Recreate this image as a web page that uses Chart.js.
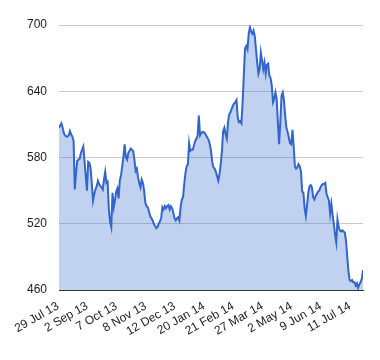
<!DOCTYPE html>
<html>
<head>
<meta charset="utf-8">
<script src="https://cdn.jsdelivr.net/npm/chart.js@4"></script>
<style>
  html, body { margin: 0; padding: 0; background: #fff; }
  canvas { display: block; }
</style>
</head>
<body>
<canvas id="chart" width="380" height="360"></canvas>
<script>
// tick labels along the x axis, one every 24 trading days
const tickLabels = ["29 Jul 13", "2 Sep 13", "7 Oct 13", "8 Nov 13", "12 Dec 13", "20 Jan 14",
	"21 Feb 14", "27 Mar 14", "2 May 14", "9 Jun 14", "11 Jul 14"];
const tickStep = 24;

const yTicks = [460, 520, 580, 640, 700];

// daily closes
const prices = [
	607, 609, 611, 607, 602, 600, 599, 599, 600, 604,
	601, 599, 595, 551, 566, 577, 578, 579, 584, 587,
	590, 577, 563, 550, 576, 575, 570, 556, 541, 547,
	551, 554, 559, 556, 554, 553, 551, 560, 567, 557,
	558, 533, 522, 517, 548, 535, 541, 549, 552, 543,
	559, 564, 572, 581, 592, 580, 578, 584, 586, 588,
	587, 586, 578, 568, 570, 562, 557, 553, 560, 557,
	550, 539, 536, 535, 531, 527, 525, 523, 520, 518,
	516, 517, 520, 522, 525, 535, 533, 536, 534, 536,
	537, 533, 536, 534, 530, 525, 523, 525, 526, 523,
	535, 542, 544, 556, 566, 572, 574, 593, 586, 587,
	587, 591, 595, 597, 600, 618, 600, 602, 603, 603,
	602, 600, 598, 596, 592, 586, 576, 571, 570, 567,
	563, 559, 565, 574, 586, 604, 607, 601, 597, 612,
	619, 621, 624, 627, 629, 630, 632, 616, 612, 613,
	611, 630, 655, 679, 681, 678, 692, 698, 694, 692,
	695, 690, 678, 666, 656, 660, 675, 668, 660, 666,
	656, 664, 665, 654, 652, 645, 630, 633, 639, 633,
	612, 592, 612, 636, 639, 632, 618, 607, 603, 598,
	593, 592, 605, 590, 572, 570, 571, 574, 572, 567,
	549, 548, 534, 527, 537, 548, 554, 555, 553, 544,
	542, 545, 547, 549, 550, 553, 555, 556, 556, 557,
	547, 544, 541, 529, 538, 528, 520, 510, 503, 524,
	517, 514, 513, 514, 513, 512, 505, 491, 477, 469,
	468, 469, 467, 467, 464, 466, 462, 465, 467, 470,
	478
];

const labelFont = { family: "'Liberation Sans', Arial, sans-serif", size: 12 };

new Chart(document.getElementById("chart"), {
	type: "line",
	data: {
		datasets: [
			{
				data: prices.map((v, i) => ({ x: i, y: v })),
				borderColor: "#3366cc",
				borderWidth: 2,
				backgroundColor: "rgba(51, 102, 204, 0.3)",
				fill: "start",
				pointRadius: 0,
				tension: 0,
			},
		],
	},
	options: {
		responsive: false,
		animation: false,
		layout: {
			padding: { top: 25, right: 17, bottom: 0, left: 0 },
		},
		plugins: {
			legend: { display: false },
			tooltip: { enabled: false },
		},
		scales: {
			x: {
				type: "linear",
				min: 0,
				max: prices.length - 1,
				z: 1,
				afterFit: (scale) => {
					scale.height = 70;
				},
				afterBuildTicks: (scale) => {
					scale.ticks = tickLabels.map((_, k) => ({ value: k * tickStep }));
				},
				grid: { display: false, drawTicks: false, tickLength: 0 },
				border: { color: "#333333", width: 1 },
				ticks: {
					autoSkip: false,
					minRotation: 30,
					maxRotation: 30,
					padding: 9,
					labelOffset: -1,
					color: "#222222",
					font: labelFont,
					callback: (value) => tickLabels[Math.round(value / tickStep)],
				},
			},
			y: {
				min: 460,
				max: 700,
				afterFit: (scale) => {
					scale.width = 59;
				},
				afterBuildTicks: (scale) => {
					scale.ticks = yTicks.map((v) => ({ value: v }));
				},
				grid: {
					color: "#cccccc",
					drawTicks: false,
				},
				border: { display: false },
				ticks: {
					padding: 12,
					color: "#222222",
					font: labelFont,
				},
			},
		},
	},
});
</script>
</body>
</html>
